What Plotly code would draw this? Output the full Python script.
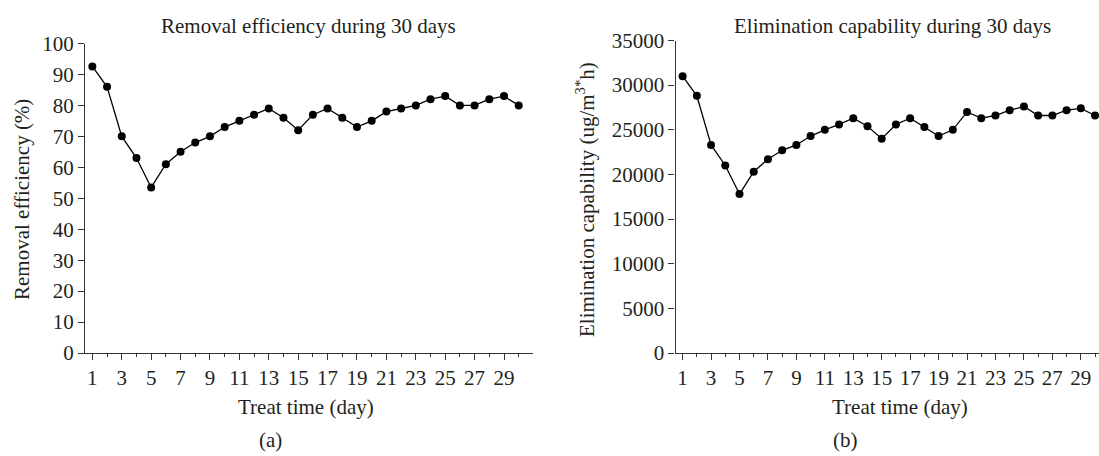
import plotly.graph_objects as go

days = list(range(1, 31))
removal_eff = [92.6, 86, 70, 63, 53.5, 61, 65, 68, 70, 73, 75, 77, 79, 76, 72,
               77, 79, 76, 73, 75, 78, 79, 80, 82, 83, 80, 80, 82, 83, 80]
elim_cap = [31000, 28800, 23300, 21000, 17800, 20300, 21700, 22700, 23300, 24300,
            25000, 25600, 26300, 25400, 24000, 25600, 26300, 25300, 24300, 25000,
            27000, 26300, 26600, 27200, 27600, 26600, 26600, 27200, 27400, 26600]
x_ticks = list(range(1, 30, 2))
y_ticks_a = list(range(0, 101, 10))
y_ticks_b = list(range(0, 35001, 5000))

FONT = "Liberation Serif"
TXT = "#231f20"
W, H = 1099, 456
TICK_SIZE = 21
TITLE_SIZE = 21

fig = go.Figure()
marker = dict(color="black", size=8)
line = dict(color="black", width=1.3)
fig.add_trace(go.Scatter(x=days, y=removal_eff, mode="lines+markers", marker=marker,
                         line=line, xaxis="x", yaxis="y", showlegend=False, cliponaxis=False))
fig.add_trace(go.Scatter(x=days, y=elim_cap, mode="lines+markers", marker=marker,
                         line=line, xaxis="x2", yaxis="y2", showlegend=False, cliponaxis=False))

xcommon = dict(tickmode="array", tickvals=x_ticks, ticks="outside", ticklen=6, tickwidth=1.2,
               tickcolor="#333", showline=True, linecolor="#333", linewidth=1.2,
               showgrid=False, zeroline=False, automargin=False,
               tickfont=dict(family=FONT, size=TICK_SIZE, color=TXT),
               minor=dict(tickmode="array", tickvals=days, ticks="outside", ticklen=3,
                          tickwidth=1.2, tickcolor="#333", showgrid=False))
ycommon = dict(ticks="outside", ticklen=6, tickwidth=1.2, tickcolor="#333", showline=True,
               linecolor="#333", linewidth=1.2, showgrid=False, zeroline=False,
               automargin=False,
               tickfont=dict(family=FONT, size=TICK_SIZE, color=TXT), tickmode="array",
               tickformat="d")

fig.update_layout(
    width=W, height=H, margin=dict(l=0, r=0, t=0, b=0, pad=0, autoexpand=False),
    paper_bgcolor="white", plot_bgcolor="white",
    xaxis=dict(domain=[85 / W, 533.4 / W], range=[0.5, 31], anchor="y", **xcommon),
    yaxis=dict(domain=[103 / H, 412.5 / H], range=[0, 100], anchor="x",
               tickvals=y_ticks_a, **ycommon),
    xaxis2=dict(domain=[675.5 / W, 1.0], range=[0.5, 30.28], anchor="y2", **xcommon),
    yaxis2=dict(domain=[103 / H, 415.5 / H], range=[0, 35000], anchor="x2",
                tickvals=y_ticks_b, **ycommon),
)

def ann(text, x, y, angle=0, size=TITLE_SIZE):
    fig.add_annotation(text=text, x=x / W, y=1 - y / H, xref="paper", yref="paper",
                       showarrow=False, textangle=angle, xanchor="center", yanchor="middle",
                       font=dict(family=FONT, size=size, color=TXT))

ann("Removal efficiency during 30 days", 308, 26)
ann("Elimination capability during 30 days", 892, 26)
ann("Treat time (day)", 306, 407)
ann("Treat time (day)", 900, 407)
ann("(a)", 270, 440)
ann("(b)", 845, 440)
ann("Removal efficiency (%)", 22, 200, angle=-90)
ann("Elimination capability (ug/m<sup>3*</sup>h)", 585, 200, angle=-90)

fig.write_html("out.html")
